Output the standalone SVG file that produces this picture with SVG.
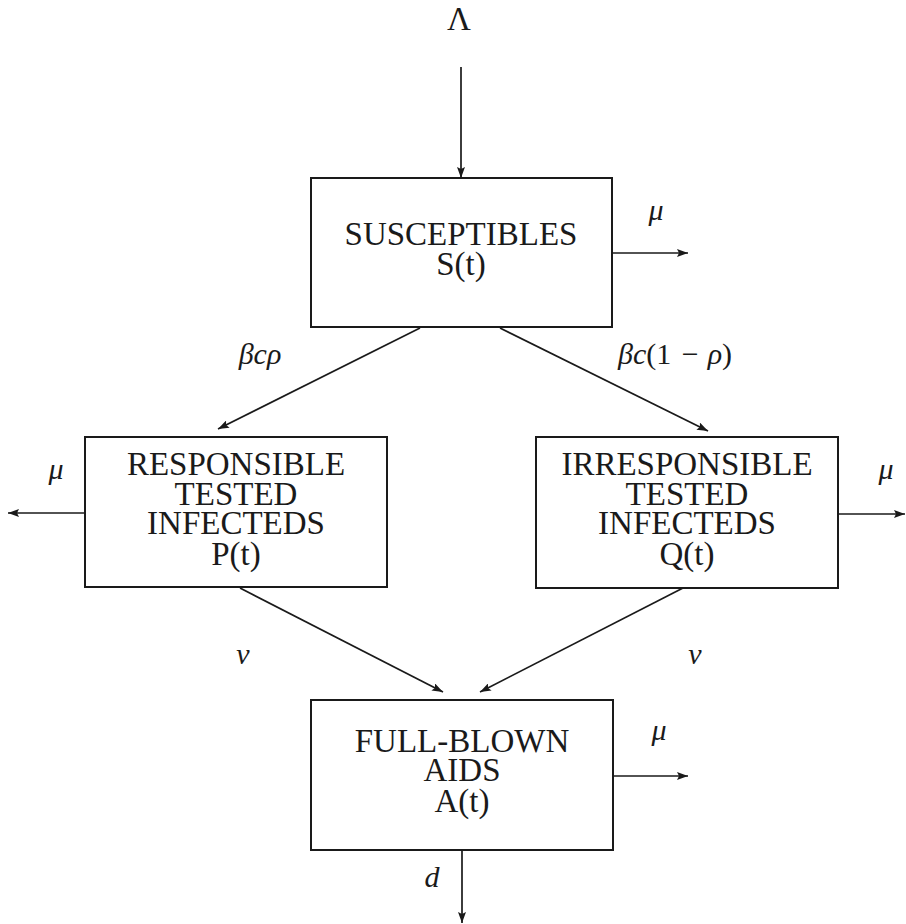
<svg xmlns="http://www.w3.org/2000/svg" width="906" height="924" viewBox="0 0 906 924">
  <style>
    .box { fill: none; stroke: #1a1a1a; stroke-width: 2; }
    .lbl { font-family: "Liberation Serif", "Times New Roman", serif; font-size: 33px; fill: #1a1a1a; text-anchor: middle; }
    .math { font-family: "Liberation Serif", "Times New Roman", serif; font-size: 30px; font-style: italic; fill: #1a1a1a; text-anchor: middle; }
    .rm { font-style: normal; }
    .edge { stroke: #1a1a1a; stroke-width: 1.7; fill: none; marker-end: url(#arr); }
  </style>
  <defs>
    <marker id="arr" viewBox="0 0 11 8" refX="11" refY="4" markerWidth="11" markerHeight="8" markerUnits="userSpaceOnUse" orient="auto">
      <path d="M0,0 L11,4 L0,8 L2,4 z" fill="#1a1a1a"/>
    </marker>
  </defs>
  <rect width="906" height="924" fill="#ffffff"/>

  <!-- compartments -->
  <g id="susceptibles">
    <rect class="box" x="311" y="178" width="301" height="149"/>
    <text class="lbl"><tspan x="461" y="245">SUSCEPTIBLES</tspan><tspan x="461" y="275">S(t)</tspan></text>
  </g>
  <g id="responsible">
    <rect class="box" x="85" y="437" width="302" height="150"/>
    <text class="lbl"><tspan x="236" y="475">RESPONSIBLE</tspan><tspan x="236" y="505">TESTED</tspan><tspan x="236" y="534">INFECTEDS</tspan><tspan x="236" y="565">P(t)</tspan></text>
  </g>
  <g id="irresponsible">
    <rect class="box" x="536" y="437" width="302" height="151"/>
    <text class="lbl"><tspan x="687" y="475">IRRESPONSIBLE</tspan><tspan x="687" y="505">TESTED</tspan><tspan x="687" y="534">INFECTEDS</tspan><tspan x="687" y="565">Q(t)</tspan></text>
  </g>
  <g id="aids">
    <rect class="box" x="311" y="700" width="302" height="150"/>
    <text class="lbl"><tspan x="462" y="752">FULL-BLOWN</tspan><tspan x="462" y="781">AIDS</tspan><tspan x="462" y="812">A(t)</tspan></text>
  </g>

  <!-- flows between compartments -->
  <g id="connectors">
    <line class="edge" x1="461" y1="67" x2="461" y2="178"/>
    <line class="edge" x1="612" y1="253" x2="688" y2="253"/>
    <line class="edge" x1="420" y1="328" x2="218" y2="429"/>
    <line class="edge" x1="500" y1="328" x2="708" y2="431"/>
    <line class="edge" x1="85" y1="513" x2="8" y2="513"/>
    <line class="edge" x1="838" y1="514" x2="905" y2="514"/>
    <line class="edge" x1="240" y1="588" x2="443" y2="692"/>
    <line class="edge" x1="683" y1="588" x2="480" y2="692"/>
    <line class="edge" x1="613" y1="776" x2="688" y2="776"/>
    <line class="edge" x1="462" y1="850" x2="462" y2="923"/>
  </g>

  <!-- rate labels -->
  <g id="rates">
    <text class="lbl" x="459" y="30">Λ</text>
    <text class="math" x="656" y="220">μ</text>
    <text class="math" x="260" y="364">βcρ</text>
    <text class="math" x="675" y="364" font-size="31">βc<tspan class="rm">(1 </tspan><tspan class="rm" dx="3">−</tspan><tspan dx="9">ρ</tspan><tspan class="rm">)</tspan></text>
    <text class="math" x="56" y="479">μ</text>
    <text class="math" x="886" y="479">μ</text>
    <text class="math" x="243" y="664">v</text>
    <text class="math" x="695" y="664">v</text>
    <text class="math" x="659" y="740">μ</text>
    <text class="math" x="432" y="887">d</text>
  </g>
</svg>
